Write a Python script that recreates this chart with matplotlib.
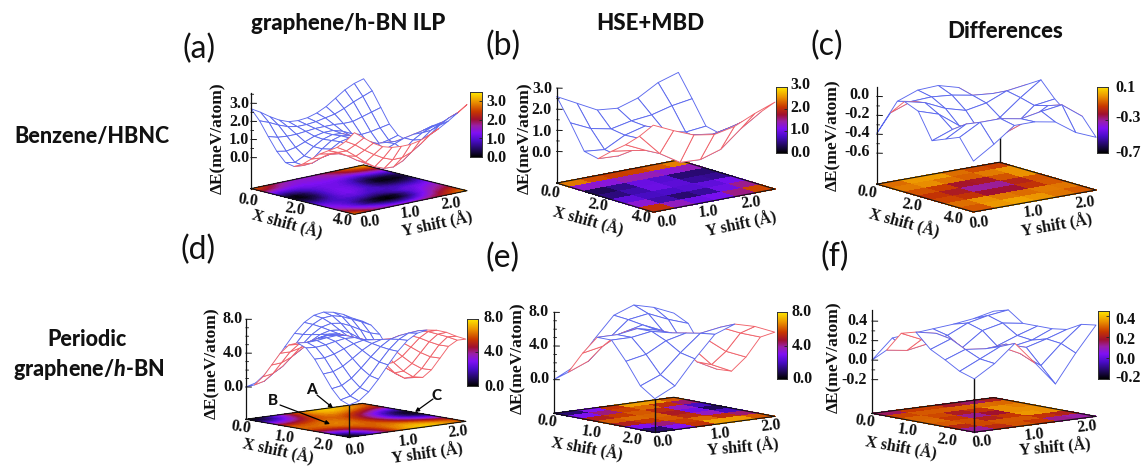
import numpy as np
import matplotlib
matplotlib.use("Agg")
import matplotlib.pyplot as plt
from matplotlib.colors import LinearSegmentedColormap, Normalize
from mpl_toolkits.mplot3d import proj3d
from mpl_toolkits.mplot3d.art3d import Poly3DCollection

plt.rcParams['mathtext.fontset'] = 'custom'
plt.rcParams['mathtext.rm'] = 'Lato:black'
plt.rcParams['mathtext.it'] = 'Lato:italic:black'
plt.rcParams['mathtext.bf'] = 'Lato:black'

# ---------- data ----------
z_a = [
 [2.70,2.40,2.05,1.75,1.55,1.50,1.55,1.70,1.95,2.30,2.65,2.90,3.05],
 [2.15,1.95,1.70,1.50,1.40,1.40,1.45,1.55,1.65,1.85,2.10,2.30,2.50],
 [1.40,1.25,1.20,1.20,1.25,1.30,1.30,1.30,1.25,1.25,1.40,1.55,1.70],
 [0.70,0.60,0.70,0.90,1.10,1.20,1.20,1.05,0.80,0.65,0.70,0.80,0.90],
 [0.20,0.10,0.35,0.75,1.05,1.20,1.15,0.90,0.50,0.20,0.15,0.25,0.40],
 [0.10,0.05,0.30,0.75,1.10,1.25,1.15,0.85,0.40,0.10,0.05,0.10,0.25],
 [0.35,0.30,0.50,0.85,1.15,1.25,1.10,0.85,0.55,0.35,0.30,0.35,0.55],
 [0.75,0.70,0.80,0.95,1.05,1.05,0.90,0.85,0.80,0.75,0.75,0.80,1.05],
 [1.15,1.05,0.95,0.85,0.75,0.65,0.55,0.65,0.85,1.05,1.15,1.25,1.40],
 [1.45,1.25,0.95,0.60,0.30,0.10,0.05,0.20,0.60,1.05,1.35,1.55,1.70],
 [1.75,1.45,1.05,0.60,0.25,0.05,0.02,0.25,0.70,1.20,1.60,1.85,2.05],
 [2.20,1.90,1.50,1.15,0.85,0.65,0.65,0.85,1.20,1.60,2.00,2.30,2.50],
 [2.80,2.40,2.00,1.70,1.55,1.50,1.50,1.60,1.80,2.05,2.35,2.70,3.05]]
z_b = [
 [2.60,2.10,1.60,1.50,1.80,2.35,2.65],
 [1.55,1.10,0.90,1.10,1.20,1.45,1.60],
 [0.40,0.30,0.80,1.05,0.60,0.40,0.50],
 [0.25,0.20,0.85,1.15,0.50,0.25,0.35],
 [0.80,0.65,0.90,1.00,0.85,0.70,0.90],
 [1.30,0.85,0.55,0.60,0.90,1.15,1.40],
 [1.90,0.90,0.30,0.25,0.55,1.35,1.97],
 [2.62,2.18,1.79,1.63,1.83,2.26,2.62]]
floor_b = [
 [2.80,2.60,2.40,2.30,2.40,2.60,2.80],
 [2.30,1.95,1.85,1.90,1.95,2.05,2.30],
 [0.60,0.30,0.80,1.05,0.60,0.40,0.70],
 [0.25,0.20,0.85,1.15,0.50,0.25,0.35],
 [0.80,0.65,0.90,1.00,0.85,0.70,0.90],
 [1.30,0.85,0.55,0.60,0.90,1.15,1.40],
 [2.00,0.90,0.30,0.25,0.55,1.35,2.10],
 [2.80,2.40,1.79,1.63,1.83,2.40,2.80]]
z_c = [
 [-.39,-.09,-.01,0.00,-.06,-.25,-.38],
 [-.13,-.05,-.04,-.06,-.10,-.12,-.15],
 [0.03,-.02,-.12,-.18,-.14,-.05,-.02],
 [-.03,-.10,-.26,-.36,-.25,-.08,0.07],
 [-.30,-.22,-.32,-.42,-.30,-.12,-.09],
 [-.24,-.12,-.20,-.28,-.20,-.08,-.21],
 [-.18,-.06,-.06,-.10,-.06,-.03,-.19],
 [-.39,-.25,-.09,-.09,-.13,-.28,-.37]]
floor_c = [
 [-.14,-.08,-.02,-.06,-.14,-.18,-.18],
 [-.08,0.00,0.04,0.00,-.08,-.06,-.10],
 [-.10,-.04,-.12,-.18,-.10,0.02,0.04],
 [-.15,-.14,-.25,-.34,-.24,-.10,-.06],
 [-.16,-.16,-.28,-.36,-.28,-.14,-.12],
 [-.12,-.06,-.12,-.18,-.14,-.06,-.08],
 [-.12,0.02,0.05,0.02,0.00,-.02,-.08],
 [-.20,-.10,-.04,-.02,-.08,-.14,-.14]]
z_d = [
 [0.00,0.32,1.23,2.57,4.10,5.55,6.69,7.38,7.60,7.42,7.02,6.40,5.90],
 [0.42,0.71,1.57,2.83,4.26,5.60,6.63,7.22,7.34,7.09,6.63,6.16,5.60],
 [1.57,1.78,2.48,3.53,4.70,5.75,6.48,6.77,6.63,6.17,5.56,5.02,4.70],
 [3.13,3.24,3.73,4.49,5.30,5.95,6.27,6.16,5.67,4.91,4.10,3.45,3.13],
 [4.70,4.70,4.99,5.45,5.90,6.16,6.06,5.55,4.70,3.65,2.64,1.88,1.57],
 [5.85,5.77,5.90,6.15,6.34,6.30,5.90,5.11,4.00,2.73,1.57,0.73,0.50],
 [6.27,6.16,6.24,6.41,6.51,6.36,5.85,4.94,3.74,2.40,1.17,0.40,0.30],
 [5.85,5.77,5.90,6.15,6.34,6.30,5.90,5.11,4.00,2.73,1.57,0.73,0.50],
 [4.70,4.70,4.99,5.45,5.90,6.16,6.06,5.55,4.70,3.65,2.64,1.88,1.57],
 [3.13,3.24,3.73,4.49,5.30,5.95,6.27,6.16,5.67,4.91,4.10,3.45,3.13],
 [1.57,1.78,2.48,3.53,4.70,5.75,6.48,6.77,6.63,6.17,5.56,5.02,4.70],
 [0.42,0.71,1.57,2.83,4.26,5.60,6.63,7.22,7.34,7.09,6.63,6.16,5.60],
 [0.00,0.32,1.23,2.57,4.10,5.55,6.69,7.38,7.60,7.42,7.02,6.40,5.90]]
z_e = [
 [0.0,1.2,4.1,6.7,7.6,7.0,6.0],
 [1.2,2.2,4.5,6.5,6.9,5.9,5.1],
 [3.8,4.3,5.6,6.2,5.2,3.5,2.4],
 [6.0,6.0,6.4,5.9,3.9,1.5,0.3],
 [6.0,6.0,6.4,5.9,3.9,1.5,0.4],
 [3.8,4.3,5.6,6.2,5.2,3.4,2.4],
 [1.2,2.2,4.5,6.5,6.9,5.9,5.1],
 [0.0,1.2,4.1,6.7,7.6,7.0,6.0]]
z_f = [
 [0.00,0.20,0.22,0.24,0.26,0.29,0.34],
 [0.13,0.10,0.14,0.20,0.30,0.35,0.38],
 [0.33,0.24,0.05,0.10,0.25,0.30,0.27],
 [0.37,0.33,0.12,-.02,0.12,0.20,0.27],
 [0.22,0.30,0.12,0.06,0.14,0.18,0.27],
 [0.14,0.22,0.20,0.22,0.16,0.22,0.29],
 [0.05,0.15,0.25,0.15,0.00,0.20,0.37],
 [0.00,0.13,0.31,0.08,-.16,0.13,0.39]]
floor_f = [
 [-.02,0.15,0.28,0.14,0.02,0.02,0.22],
 [0.20,0.28,0.30,0.32,0.28,0.28,0.30],
 [0.28,0.30,0.28,0.26,0.32,0.36,0.28],
 [0.32,0.30,0.20,0.06,0.32,0.38,0.30],
 [0.30,0.30,0.20,0.04,0.30,0.38,0.32],
 [0.26,0.30,0.30,0.30,0.36,0.38,0.30],
 [0.12,0.22,0.26,0.28,0.20,0.03,0.14],
 [-.02,0.16,0.28,0.30,0.22,0.06,0.22]]

titles = ["graphene/h-BN ILP", "HSE+MBD", "Differences"]
panel_letters = ["(a)", "(b)", "(c)", "(d)", "(e)", "(f)"]
x_shift_label = "X shift (Å)"
y_shift_label = "Y shift (Å)"
z_label = "ΔE(meV/atom)"

W, H = 1141, 466
fig = plt.figure(figsize=(W/100, H/100), dpi=100, facecolor='white')

cmap = LinearSegmentedColormap.from_list('pal', [
    (0.00, '#000000'), (0.10, '#1c0850'), (0.25, '#4a0cc8'), (0.37, '#8010f4'),
    (0.48, '#9a20a8'), (0.58, '#a01030'), (0.70, '#c83800'), (0.85, '#ec9400'),
    (1.00, '#ffe800')])

BLUE, RED = '#5b68ee', '#f0626a'
SERIF = 'Liberation Serif'

ov = fig.add_axes([0, 0, 1, 1], zorder=50)
ov.set_xlim(0, W); ov.set_ylim(H, 0); ov.axis('off'); ov.patch.set_alpha(0)


def T(x, y, s, fs=12, fam=SERIF, w='bold', ha='center', rot=0, st='normal'):
    ov.text(x, y, s, fontsize=fs, family=fam, weight=w, ha=ha, va='center',
            rotation=rot, rotation_mode='anchor', style=st, color='#111111')


def panel(zs, xmax, ymax, vmin, vmax, L, F, R, B, z0y, zref, zrefy, ztopy,
          zticks, zminor, ztfmt, zlab_xy, ztick_right,
          xt, xt_vals, yt, yt_vals, xlab, ylab,
          cbox, cticks, cfmt, clabx, floor=None, smooth=False, stem=None):
    Z = np.array(zs, float)
    nx, ny = Z.shape
    xs = np.linspace(0, xmax, nx)
    ys = np.linspace(0, ymax, ny)
    Xg, Yg = np.meshgrid(xs, ys, indexing='ij')
    ppu = (z0y - zrefy) / zref
    zf = -(L[1] - z0y) / ppu
    ztop = (z0y - ztopy) / ppu
    dxX, dxY = F[0] - L[0], R[0] - F[0]
    dyX, dyY = F[1] - L[1], F[1] - R[1]
    az = np.arctan(dxX / dxY)
    sin_el = 0.5 * (dyX / dxX * np.tan(az) + dyY / dxY / np.tan(az))
    el = np.arcsin(sin_el)
    s = (R[0] - L[0]) / (np.cos(az) + np.sin(az))
    h = (L[1] - ztopy) / np.cos(el) / s

    ax = fig.add_axes([.2, .2, 300/W, 300/H], projection='3d',
                      proj_type='ortho', computed_zorder=False)
    ax.set_xlim(0, xmax); ax.set_ylim(0, ymax); ax.set_zlim(zf, ztop)
    ax.view_init(elev=np.degrees(el), azim=-np.degrees(az))
    ax.set_box_aspect((1, 1, h), zoom=0.8)
    ax.set_axis_off()
    ax.apply_aspect()

    M = ax.get_proj()

    def disp(x, y, z):
        xp, yp, _ = proj3d.proj_transform(x, y, z, M)
        return ax.transData.transform((xp, yp))
    pL, pR = disp(0, 0, zf), disp(xmax, ymax, zf)
    A = 300 * (R[0] - L[0]) / (pR[0] - pL[0])
    ax.set_position([.2, .2, A/W, A/H]); ax.apply_aspect()
    corners = [disp(0, 0, zf), disp(xmax, 0, zf), disp(xmax, ymax, zf), disp(0, ymax, zf)]
    cur = np.mean(corners, axis=0)
    tgt = np.mean([L, F, R, B], axis=0)
    tgt = (tgt[0], H - tgt[1])
    x0 = (.2 * W + tgt[0] - cur[0]) / W
    y0 = (.2 * H + tgt[1] - cur[1]) / H
    ax.set_position([x0, y0, A/W, A/H]); ax.apply_aspect()
    ax.patch.set_visible(False)

    norm = Normalize(vmin, vmax)
    Fl = Z if floor is None else np.array(floor, float)
    if smooth:
        ax.contourf(Xg.T, Yg.T, Fl.T, levels=np.linspace(vmin, vmax, 70), zdir='z',
                    offset=zf, cmap=cmap, norm=norm, extend='both', zorder=1,
                    antialiased=False)
    else:
        polys, cols = [], []
        for i in range(nx - 1):
            for j in range(ny - 1):
                polys.append([(xs[i], ys[j], zf), (xs[i+1], ys[j], zf),
                              (xs[i+1], ys[j+1], zf), (xs[i], ys[j+1], zf)])
                cols.append(cmap(norm((Fl[i, j] + Fl[i+1, j] + Fl[i, j+1] + Fl[i+1, j+1]) / 4)))
        pc = Poly3DCollection(polys, facecolors=cols, edgecolors=cols, linewidths=.3,
                              antialiased=False, zorder=1)
        ax.add_collection3d(pc)

    # floor outline
    ax.plot([0, xmax, xmax, 0, 0], [0, 0, ymax, ymax, 0], [zf]*5, color='#111111', lw=.8, zorder=1.5)
    if stem is not None:
        sx = xmax if stem == 'front' else 0
        sy = 0 if stem == 'front' else ymax
        zc = Z[-1, 0] if stem == 'front' else Z[0, -1]
        ax.plot([sx, sx], [sy, sy], [zf, zc], color='#111111', lw=1.0, zorder=2)

    # wire surface, blue on the upper side, red on the under side
    xp, yp, _ = proj3d.proj_transform(Xg.ravel(), Yg.ravel(), Z.ravel(), ax.get_proj())
    xp = np.reshape(xp, Z.shape); yp = np.reshape(yp, Z.shape)
    polys, edges = [], []
    for i in range(nx - 1):
        for j in range(ny - 1):
            idx = [(i, j), (i+1, j), (i+1, j+1), (i, j+1)]
            polys.append([(xs[a], ys[b], Z[a, b]) for a, b in idx])
            px = [xp[a, b] for a, b in idx]; py = [yp[a, b] for a, b in idx]
            area = sum(px[k]*py[(k+1) % 4] - px[(k+1) % 4]*py[k] for k in range(4))
            edges.append(BLUE if area > 0 else RED)
    wire = Poly3DCollection(polys, facecolors='white', edgecolors=edges, linewidths=.65, zorder=3)
    ax.add_collection3d(wire)

    # z axis
    ax.plot([0, 0], [0, 0], [zf, ztop], color='#111111', lw=.9, zorder=4)
    for zt in zticks:
        ax.plot([0, .025*xmax], [0, .025*ymax], [zt, zt], color='#111111', lw=.7, zorder=4)
    for zt in zminor:
        ax.plot([0, .012*xmax], [0, .012*ymax], [zt, zt], color='#111111', lw=.6, zorder=4)
    for zt in zticks:
        T(ztick_right, z0y - zt*ppu, ztfmt % zt, fs=11.5, ha='right')
    T(zlab_xy[0], zlab_xy[1], z_label, fs=12.5, rot=90)
    for (px_, py_), v in zip(xt, xt_vals):
        T(px_, py_, '%.1f' % v, fs=11.5, rot=-8)
    for (px_, py_), v in zip(yt, yt_vals):
        T(px_, py_, '%.1f' % v, fs=11.5, rot=6)
    T(xlab[0], xlab[1], x_shift_label, fs=11.5, rot=xlab[2])
    T(ylab[0], ylab[1], y_shift_label, fs=11.5, rot=ylab[2])

    # colour bar
    x1, x2, y1, y2 = cbox
    cax = fig.add_axes([x1/W, 1 - y2/H, (x2-x1)/W, (y2-y1)/H])
    grad = np.linspace(vmin, vmax, 256).reshape(-1, 1)
    cax.imshow(grad, origin='lower', aspect='auto', cmap=cmap, norm=norm,
               extent=[0, 1, vmin, vmax])
    cax.set_xticks([])
    cax.yaxis.tick_right()
    cax.set_yticks(list(cticks))
    cax.set_yticklabels([])
    cax.tick_params(axis='y', direction='in', length=2, width=.6, color='#222222')
    for sp in cax.spines.values():
        sp.set_linewidth(.7); sp.set_color('#333333')
    for v, yy in cticks.items():
        T(clabx, yy, cfmt % v, fs=11.5, ha='left')


panel(z_a, 4.26, 2.46, 0, 3.5, (253.3,189.3), (356.7,214.3), (469.3,190), (356.7,165),
      158.3, 3.0, 104, 94, [0,1,2,3], [.5,1.5,2.5,3.5], '%.1f', (218,138), 249,
      [(248,200),(295,209),(342,220)], [0,2,4], [(370,222),(410,213),(451,204)], [0,1,2],
      (287,224,-15), (437,224,12), (470,481.7,91.7,156.7), {0.:158,1.:140,2.:121,3.:102}, '%.1f', 486,
      smooth=True)
panel(z_b, 4.26, 2.46, 0, 3.0, (556.7,184.3), (653.3,211.7), (775,187.3), (678.3,161),
      152.7, 3.0, 89.3, 89, [0,1,2,3], [.5,1.5,2.5], '%.1f', (525,138), 552,
      [(550,192),(598,205),(641,217)], [0,2,4], [(667,222),(708,212),(751,203)], [0,1,2],
      (588,221,-15), (741,224,12), (776,786.7,87.3,153), {0.:152.7,1.:130,2.:108,3.:85}, '%.1f', 790,
      floor=floor_b)
panel(z_c, 4.26, 2.46, -.7, .1, (876.7,182.7), (973.3,211.7), (1096,190.7), (1000,163.3),
      95, -.6, 151.7, 86, [0,-.2,-.4,-.6], [-.1,-.3,-.5], '%.1f', (833,135), 870,
      [(867,192),(912,205),(953,218)], [0,2,4], [(979,223),(1033,212),(1085,203)], [0,1,2],
      (904,223,-15), (1057,226,10), (1097.3,1108.3,86.7,153.3), {.1:88,-.3:118,-.7:152.7}, '%.1f', 1115,
      floor=floor_c, stem='back')
panel(z_d, 2.46, 2.13, 0, 8, (246.7,419), (350,437.3), (466.7,421.7), (360,403.3),
      386.7, 8.0, 319, 319, [0,4,8], [1,2,3,5,6,7], '%.1f', (212,363), 243,
      [(241,427),(284,437),(323,445)], [0,1,2], [(355,450),(408,441),(458,432)], [0,1,2],
      (278,451,-12), (427,454,8), (467,478,319,385.7), {0.:386.7,4.:351.7,8.:318}, '%.1f', 484,
      smooth=True, stem='front')
panel(z_e, 2.46, 2.13, 0, 8, (554,412.7), (655,432.3), (775,416.7), (673.3,397.7),
      379, 8.0, 311.7, 311.7, [0,4,8], [1,2,3,5,6,7], '%.1f', (518,358), 549,
      [(547,421),(591,432),(632,439)], [0,1,2], [(663,442),(720,434),(771,426)], [0,1,2],
      (587,449,-10), (743,448,5), (776.7,787.3,312.3,379), {0.:379,4.:346,8.:312}, '%.1f', 792,
      stem='front')
panel(z_f, 2.46, 2.13, -.2, .45, (872.7,413.3), (975,432.3), (1096.7,416.7), (991.7,397.3),
      360, .4, 321, 310, [-.2,0,.2,.4], [-.1,.1,.3], '%.1f', (834,357), 867,
      [(865,421),(907,430),(947,440)], [0,1,2], [(982,442),(1034,435),(1087,427)], [0,1,2],
      (901,448,-10), (1055,448,5), (1098.3,1109,311,379), {-.2:377.7,0.:360,.2:340,.4:320}, '%.1f', 1115,
      floor=floor_f, stem='front')

# headings
T(348, 24, titles[0], fs=16, fam='Lato', w='black')
T(650, 24, titles[1], fs=16, fam='Lato', w='black')
T(1005, 31, titles[2], fs=16, fam='Lato', w='black')
for (x, y), s in zip([(199,49),(503,46),(827,46),(198,250),(503,258),(835,257)], panel_letters):
    T(x, y, s, fs=23, fam='Lato', w='normal')
T(92, 137, "Benzene/HBNC", fs=15.5, fam='Lato', w='black')
T(87, 339, "Periodic", fs=15.5, fam='Lato', w='black')
T(89, 369, "graphene/$\\mathit{h}$-BN", fs=15.5, fam='Lato', w='black')

# annotations in (d)
for lab, (lx, ly), start, end in [("A", (311.7,390), (317,395), (333,408)),
                                   ("B", (273,401), (280,405), (330,424)),
                                   ("C", (437,395.7), (433,399), (415,412))]:
    T(lx, ly, lab, fs=11, fam='Lato', w='black')
    ov.annotate("", xy=end, xytext=start,
                arrowprops=dict(arrowstyle='-|>', lw=.9, color='black', mutation_scale=6,
                                shrinkA=0, shrinkB=0))

fig.savefig('out.png', dpi=100, facecolor='white')
